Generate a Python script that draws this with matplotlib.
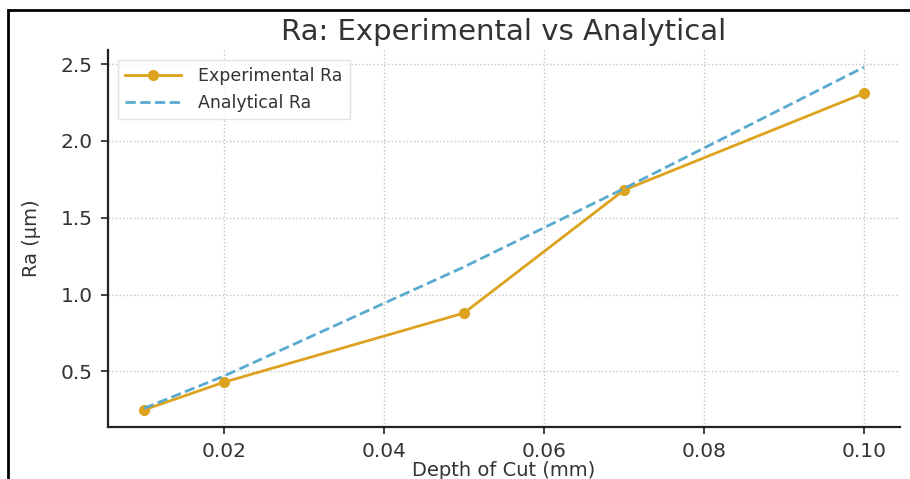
import matplotlib.pyplot as plt
from matplotlib.patches import Rectangle

depth = [0.01, 0.02, 0.05, 0.07, 0.10]
ra_experimental = [0.25, 0.43, 0.88, 1.68, 2.31]
ra_analytical = [0.26, 0.47, 1.18, 1.69, 2.48]

x_ticks = [0.02, 0.04, 0.06, 0.08, 0.10]
y_ticks = [0.5, 1.0, 1.5, 2.0, 2.5]

text_color = "#333333"

fig = plt.figure(figsize=(9.1, 4.79), dpi=100)
ax = fig.add_axes([0.1187, 0.1086, 0.8703, 0.787])

ax.plot(depth, ra_experimental, color="#DDA21E", linewidth=2, marker="o",
        markersize=7, label="Experimental Ra")
ax.plot(depth, ra_analytical, color="#5AAAD0", linewidth=2, linestyle="--",
        label="Analytical Ra")

ax.set_xticks(x_ticks)
ax.set_xticklabels([f"{t:.2f}" for t in x_ticks])
ax.set_yticks(y_ticks)
ax.set_yticklabels([f"{t:.1f}" for t in y_ticks])

ax.spines["top"].set_visible(False)
ax.spines["right"].set_visible(False)
for side in ("left", "bottom"):
    ax.spines[side].set_linewidth(1.6)
    ax.spines[side].set_color("#222222")
ax.tick_params(length=5, width=1.2, labelsize=14.5, colors="#222222",
               labelcolor=text_color, pad=6)

ax.grid(True, linestyle=":", color="#c4c4c4", linewidth=1)
ax.set_axisbelow(True)

ax.set_title("Ra: Experimental vs Analytical", fontsize=21, color=text_color, pad=7)
ax.set_xlabel("Depth of Cut (mm)", fontsize=14, color=text_color, labelpad=0)
ax.set_ylabel("Ra (μm)", fontsize=14, color=text_color, labelpad=14)

leg = ax.legend(loc="upper left", fontsize=12.5, frameon=True, fancybox=False,
                handlelength=3.2, handletextpad=1.0, borderaxespad=0.6)
leg.get_frame().set_edgecolor("#dddddd")
for t in leg.get_texts():
    t.set_color(text_color)

# outer frame of the screenshot
fig.patches.append(Rectangle((8 / 910, -0.05), 1.1, 1 - 10 / 479 + 0.05,
                             transform=fig.transFigure, fill=False,
                             edgecolor="black", linewidth=2, clip_on=False))

fig.savefig("out.png", dpi=100)
